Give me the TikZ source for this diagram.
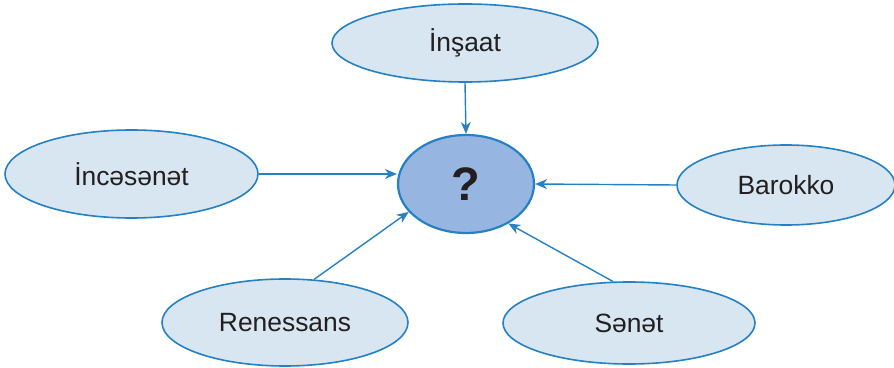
\documentclass[tikz,border=0pt]{standalone}
\usepackage{fontspec}
\setmainfont{Liberation Sans}
\usetikzlibrary{shapes.geometric,arrows.meta}
\definecolor{edgeblue}{RGB}{38,128,196}
\definecolor{paleblue}{RGB}{215,230,240}
\definecolor{midblue}{RGB}{150,182,225}
\definecolor{inkgray}{RGB}{35,31,32}

\tikzset{
  topic/.style={ellipse, draw=edgeblue, line width=1.6pt, fill=paleblue, inner sep=0pt,
    text=inkgray, font=\fontsize{26.4}{30}\selectfont},
  hub/.style={ellipse, draw=edgeblue, line width=2.2pt, fill=midblue, inner sep=0pt,
    text=inkgray, font=\fontsize{47}{50}\selectfont\bfseries},
  link/.style={draw=edgeblue, line width=1.4pt, -{Stealth[length=12pt, width=10pt]}}
}

\begin{document}
\begin{tikzpicture}[x=1pt, y=1pt]
  \useasboundingbox (0,0) rectangle (894,367);

  % centre
  \node[hub, minimum width=136pt, minimum height=98pt] (q) at (466,183) {?};

  % surrounding ideas
  \node[topic, minimum width=266pt, minimum height=78pt] (ins) at (465,324) {İnşaat};
  \node[topic, minimum width=253pt, minimum height=88pt] (inc) at (131.5,193) {İncəsənət};
  \node[topic, minimum width=218pt, minimum height=80pt] (bar) at (786,182) {Barokko};
  \node[topic, minimum width=246pt, minimum height=87pt] (ren) at (285,44.5) {Renessans};
  \node[topic, minimum width=252pt, minimum height=82pt] (sen) at (629,44) {Sənət};

  % arrows into the centre
  \draw[link] (ins.south) -- (q.north);
  \draw[link] (inc.east) -- (inc.east -| q.west);
  \draw[link] (bar.west) -- (q.east);
  \draw[link] (ren.56) -- (q.206);
  \draw[link] (sen.111) -- (q.317);
\end{tikzpicture}
\end{document}
